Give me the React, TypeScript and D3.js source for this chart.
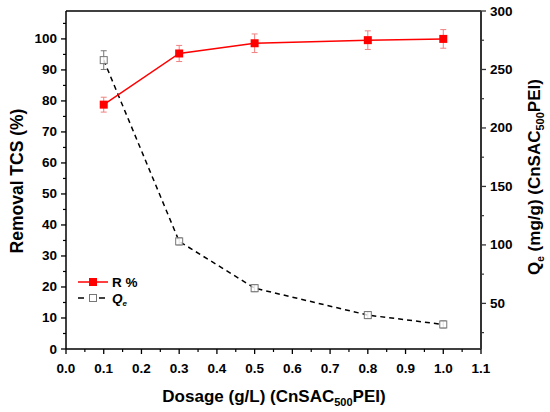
import * as d3 from "d3";

const dosage = [0.1, 0.3, 0.5, 0.8, 1.0];
const removal = [78.8, 95.3, 98.6, 99.6, 100.0];
const removalErr = [2.4, 2.6, 3.0, 3.0, 3.0];
const qe = [258, 103, 63, 40, 32];
const qeErr = [8, 3, 3, 3, 3];

const xTicks = d3.range(0, 11.5, 1).map((d) => d / 10);
const xMinor = d3.range(0.5, 11, 1).map((d) => d / 10);
const leftTicks = d3.range(0, 101, 10);
const leftMinor = d3.range(5, 110, 10);
const rightTicks = [50, 100, 150, 200, 250, 300];
const rightMinor = [25, 75, 125, 175, 225, 275];

const W = 550;
const H = 412;
const m = { left: 66, top: 11, right: 481, bottom: 349 };
const font = "'Liberation Sans', Arial, sans-serif";

export default function App() {
  const x = d3.scaleLinear().domain([0, 1.1]).range([m.left, m.right]);
  const yL = d3.scaleLinear().domain([0, 109]).range([m.bottom, m.top]);
  const yR = d3.scaleLinear().domain([11, 300]).range([m.bottom, m.top]);

  const rLine = d3
    .line<number>()
    .x((_, i) => x(dosage[i]))
    .y((d) => yL(d))(removal)!;
  const qLine = d3
    .line<number>()
    .x((_, i) => x(dosage[i]))
    .y((d) => yR(d))(qe)!;

  return (
    <svg
      width={W}
      height={H}
      style={{ position: "absolute", left: 0, top: 0, background: "#fff" }}
      fontFamily={font}
      fontWeight="bold"
    >
      {/* frame */}
      <line x1={m.left} x2={m.right} y1={m.top} y2={m.top} stroke="#000" strokeWidth={1.5} />
      <line x1={m.left} x2={m.right} y1={m.bottom} y2={m.bottom} stroke="#000" strokeWidth={1.5} />
      <line x1={m.left} x2={m.left} y1={m.top} y2={m.bottom} stroke="#000" strokeWidth={1.5} />
      <line x1={m.right} x2={m.right} y1={m.top} y2={m.bottom} stroke="#333" strokeWidth={2} />

      {/* x axis */}
      {xTicks.map((t) => (
        <g key={"x" + t}>
          <line x1={x(t)} x2={x(t)} y1={m.bottom} y2={m.bottom + 5} stroke="#000" strokeWidth={1.3} />
          <text x={x(t)} y={m.bottom + 24} fontSize={13.5} textAnchor="middle">
            {t.toFixed(1)}
          </text>
        </g>
      ))}
      {xMinor.map((t) => (
        <line key={"xm" + t} x1={x(t)} x2={x(t)} y1={m.bottom} y2={m.bottom + 3} stroke="#000" strokeWidth={1.2} />
      ))}

      {/* left axis */}
      {leftTicks.map((t) => (
        <g key={"l" + t}>
          <line x1={m.left - 5} x2={m.left} y1={yL(t)} y2={yL(t)} stroke="#000" strokeWidth={1.3} />
          <text x={m.left - 9} y={yL(t) + 4.5} fontSize={13.5} textAnchor="end">
            {t}
          </text>
        </g>
      ))}
      {leftMinor.map((t) => (
        <line key={"lm" + t} x1={m.left - 3} x2={m.left} y1={yL(t)} y2={yL(t)} stroke="#000" strokeWidth={1.2} />
      ))}

      {/* right axis */}
      {rightTicks.map((t) => (
        <g key={"r" + t}>
          <line x1={m.right} x2={m.right + 5} y1={yR(t)} y2={yR(t)} stroke="#333" strokeWidth={1.3} />
          <text x={m.right + 9} y={yR(t) + 4.5} fontSize={13.5} textAnchor="start">
            {t}
          </text>
        </g>
      ))}
      {rightMinor.map((t) => (
        <line key={"rm" + t} x1={m.right} x2={m.right + 3} y1={yR(t)} y2={yR(t)} stroke="#333" strokeWidth={1.2} />
      ))}

      {/* axis titles */}
      <text transform="translate(23,181) rotate(-90)" fontSize={17.5} textAnchor="middle">
        Removal TCS (%)
      </text>
      <text transform="translate(540,177) rotate(-90)" fontSize={17} textAnchor="middle">
        Q<tspan fontSize={10} dy={4}>e</tspan>
        <tspan dy={-4}> (mg/g) (CnSAC</tspan>
        <tspan fontSize={11} dy={4}>500</tspan>
        <tspan dy={-4}>PEI)</tspan>
      </text>
      <text x={274} y={402} fontSize={17} textAnchor="middle">
        Dosage (g/L) (CnSAC<tspan fontSize={11} dy={4}>500</tspan>
        <tspan dy={-4}>PEI)</tspan>
      </text>

      {/* Qe series */}
      <path d={qLine} fill="none" stroke="#000" strokeWidth={1.5} strokeDasharray="5 4" />
      {qe.map((v, i) => (
        <g key={"q" + i} stroke="#777" strokeWidth={1}>
          <line x1={x(dosage[i])} x2={x(dosage[i])} y1={yR(v - qeErr[i])} y2={yR(v + qeErr[i])} />
          <line x1={x(dosage[i]) - 3} x2={x(dosage[i]) + 3} y1={yR(v - qeErr[i])} y2={yR(v - qeErr[i])} />
          <line x1={x(dosage[i]) - 3} x2={x(dosage[i]) + 3} y1={yR(v + qeErr[i])} y2={yR(v + qeErr[i])} />
          <rect x={x(dosage[i]) - 3.5} y={yR(v) - 3.5} width={7} height={7} fill="#fff" fillOpacity={0.8} />
        </g>
      ))}

      {/* removal series */}
      <path d={rLine} fill="none" stroke="#f00" strokeWidth={1.5} />
      {removal.map((v, i) => (
        <g key={"r" + i}>
          <g stroke="#f08080" strokeWidth={1}>
            <line x1={x(dosage[i])} x2={x(dosage[i])} y1={yL(v - removalErr[i])} y2={yL(v + removalErr[i])} />
            <line x1={x(dosage[i]) - 3} x2={x(dosage[i]) + 3} y1={yL(v - removalErr[i])} y2={yL(v - removalErr[i])} />
            <line x1={x(dosage[i]) - 3} x2={x(dosage[i]) + 3} y1={yL(v + removalErr[i])} y2={yL(v + removalErr[i])} />
          </g>
          <rect x={x(dosage[i]) - 4} y={yL(v) - 4} width={8} height={8} fill="#f00" />
        </g>
      ))}

      {/* legend */}
      <g>
        <line x1={78} x2={108} y1={282} y2={282} stroke="#f00" strokeWidth={1.5} />
        <rect x={89} y={278} width={8} height={8} fill="#f00" />
        <text x={112} y={287} fontSize={13.5}>R %</text>
        <line x1={78} x2={84} y1={298} y2={298} stroke="#000" strokeWidth={1.5} />
        <line x1={99} x2={105} y1={298} y2={298} stroke="#000" strokeWidth={1.5} />
        <rect x={89.5} y={294.5} width={7} height={7} fill="#fff" stroke="#777" />
        <text x={112} y={303} fontSize={13.5} fontStyle="italic">
          Q<tspan fontSize={8} dy={3}>e</tspan>
        </text>
      </g>
    </svg>
  );
}
